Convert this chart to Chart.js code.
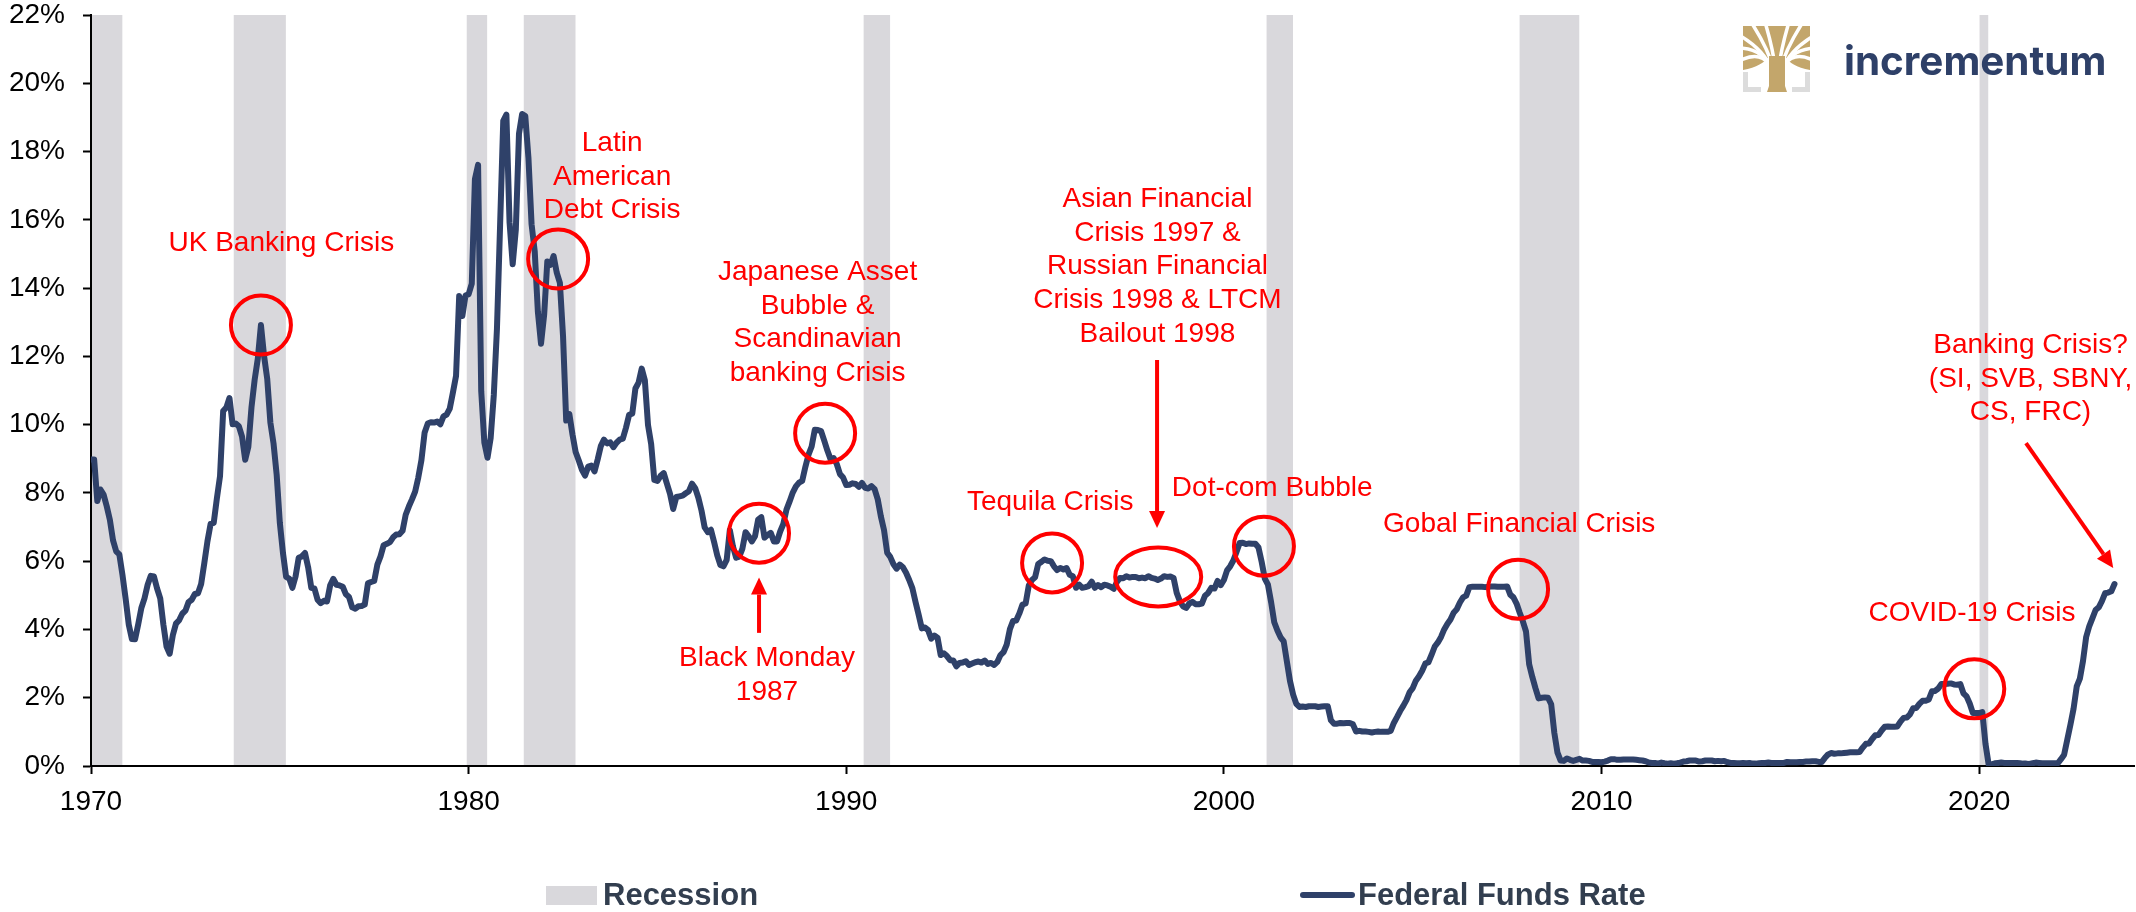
<!DOCTYPE html>
<html>
<head>
<meta charset="utf-8">
<script src="https://cdn.jsdelivr.net/npm/chart.js@4.4.0/dist/chart.umd.min.js"></script>
<style>
  html, body { margin: 0; padding: 0; background: #fff; }
</style>
</head>
<body>
<canvas id="myChart" width="2136" height="912"></canvas>
<script>
// Effective federal funds rate, monthly, starting January 1970 (%)
const startYear = 1970;
const rate1970s = [
  8.98, 8.98, 7.76, 8.10, 7.95, 7.61, 7.21, 6.61, 6.29, 6.20, 5.60, 4.90,
  4.14, 3.72, 3.71, 4.15, 4.63, 4.91, 5.31, 5.57, 5.55, 5.20, 4.91, 4.14,
  3.50, 3.29, 3.83, 4.17, 4.27, 4.46, 4.55, 4.80, 4.87, 5.04, 5.06, 5.33,
  5.94, 6.58, 7.09, 7.12, 7.84, 8.49, 10.40, 10.50, 10.78, 10.01, 10.03, 9.95,
  9.65, 8.97, 9.35, 10.51, 11.31, 11.93, 12.92, 12.01, 11.34, 10.06, 9.45, 8.53,
  7.13, 6.24, 5.54, 5.49, 5.22, 5.55, 6.10, 6.14, 6.24, 5.82, 5.22, 5.20,
  4.87, 4.77, 4.84, 4.82, 5.29, 5.48, 5.31, 5.29, 5.25, 5.03, 4.95, 4.65,
  4.61, 4.68, 4.69, 4.73, 5.35, 5.39, 5.42, 5.90, 6.14, 6.47, 6.51, 6.56,
  6.70, 6.78, 6.79, 6.89, 7.36, 7.60, 7.81, 8.04, 8.45, 8.96, 9.76, 10.03,
  10.07, 10.06, 10.09, 10.01, 10.24, 10.29, 10.47, 10.94, 11.43, 13.77, 13.18, 13.78
];
const rate1980s = [
  13.82, 14.13, 17.19, 17.61, 10.98, 9.47, 9.03, 9.61, 10.87, 12.81, 15.85, 18.90,
  19.08, 15.93, 14.70, 15.72, 18.52, 19.10, 19.04, 17.82, 15.87, 15.08, 13.31, 12.37,
  13.22, 14.78, 14.68, 14.94, 14.45, 14.15, 12.59, 10.12, 10.31, 9.71, 9.20, 8.95,
  8.68, 8.51, 8.77, 8.80, 8.63, 8.98, 9.37, 9.56, 9.45, 9.48, 9.34, 9.47,
  9.56, 9.59, 9.91, 10.29, 10.32, 11.06, 11.23, 11.64, 11.30, 9.99, 9.43, 8.38,
  8.35, 8.50, 8.58, 8.27, 7.97, 7.53, 7.88, 7.90, 7.92, 7.99, 8.05, 8.27,
  8.14, 7.86, 7.48, 6.99, 6.85, 6.92, 6.56, 6.17, 5.89, 5.85, 6.04, 6.91,
  6.43, 6.10, 6.13, 6.37, 6.85, 6.73, 6.58, 6.73, 7.22, 7.29, 6.69, 6.77,
  6.83, 6.58, 6.58, 6.87, 7.09, 7.51, 7.75, 8.01, 8.19, 8.30, 8.35, 8.76,
  9.12, 9.36, 9.85, 9.84, 9.81, 9.53, 9.24, 8.99, 9.02, 8.84, 8.55, 8.45
];
const rate1990s = [
  8.23, 8.24, 8.28, 8.26, 8.18, 8.29, 8.15, 8.13, 8.20, 8.11, 7.81, 7.31,
  6.91, 6.25, 6.12, 5.91, 5.78, 5.90, 5.82, 5.66, 5.45, 5.21, 4.81, 4.43,
  4.03, 4.06, 3.98, 3.73, 3.82, 3.76, 3.25, 3.30, 3.22, 3.10, 3.09, 2.92,
  3.02, 3.03, 3.07, 2.96, 3.00, 3.04, 3.06, 3.03, 3.09, 2.99, 3.02, 2.96,
  3.05, 3.25, 3.34, 3.56, 4.01, 4.25, 4.26, 4.47, 4.73, 4.76, 5.29, 5.45,
  5.53, 5.92, 5.98, 6.05, 6.01, 6.00, 5.85, 5.74, 5.80, 5.76, 5.80, 5.60,
  5.56, 5.22, 5.31, 5.22, 5.24, 5.27, 5.40, 5.22, 5.30, 5.24, 5.31, 5.29,
  5.25, 5.19, 5.39, 5.51, 5.50, 5.56, 5.52, 5.54, 5.54, 5.50, 5.52, 5.50,
  5.56, 5.51, 5.49, 5.45, 5.49, 5.56, 5.54, 5.55, 5.51, 5.07, 4.83, 4.68,
  4.63, 4.76, 4.81, 4.74, 4.74, 4.76, 4.99, 5.07, 5.22, 5.20, 5.42, 5.30
];
const rate2000s = [
  5.45, 5.73, 5.85, 6.02, 6.27, 6.53, 6.54, 6.50, 6.52, 6.51, 6.51, 6.40,
  5.98, 5.49, 5.31, 4.80, 4.21, 3.97, 3.77, 3.65, 3.07, 2.49, 2.09, 1.82,
  1.73, 1.74, 1.73, 1.75, 1.75, 1.75, 1.73, 1.74, 1.75, 1.75, 1.34, 1.24,
  1.24, 1.26, 1.25, 1.26, 1.26, 1.22, 1.01, 1.03, 1.01, 1.01, 1.00, 0.98,
  1.00, 1.01, 1.00, 1.00, 1.00, 1.03, 1.26, 1.43, 1.61, 1.76, 1.93, 2.16,
  2.28, 2.50, 2.63, 2.79, 3.00, 3.04, 3.26, 3.50, 3.62, 3.78, 4.00, 4.16,
  4.29, 4.49, 4.59, 4.79, 4.94, 4.99, 5.24, 5.25, 5.25, 5.25, 5.25, 5.24,
  5.25, 5.26, 5.26, 5.25, 5.25, 5.25, 5.26, 5.02, 4.94, 4.76, 4.49, 4.24,
  3.94, 2.98, 2.61, 2.28, 1.98, 2.00, 2.01, 2.00, 1.81, 0.97, 0.39, 0.16,
  0.15, 0.22, 0.18, 0.15, 0.18, 0.21, 0.16, 0.16, 0.15, 0.12, 0.12, 0.12
];
const rate2010s = [
  0.11, 0.13, 0.16, 0.20, 0.20, 0.18, 0.18, 0.19, 0.19, 0.19, 0.19, 0.18,
  0.17, 0.16, 0.14, 0.10, 0.09, 0.09, 0.07, 0.10, 0.08, 0.07, 0.08, 0.07,
  0.08, 0.10, 0.13, 0.14, 0.16, 0.16, 0.16, 0.13, 0.14, 0.16, 0.16, 0.16,
  0.14, 0.15, 0.14, 0.15, 0.11, 0.09, 0.09, 0.08, 0.08, 0.09, 0.08, 0.09,
  0.07, 0.07, 0.08, 0.09, 0.09, 0.10, 0.09, 0.09, 0.09, 0.09, 0.09, 0.12,
  0.11, 0.11, 0.11, 0.12, 0.12, 0.13, 0.13, 0.14, 0.14, 0.12, 0.12, 0.24,
  0.34, 0.38, 0.36, 0.37, 0.37, 0.38, 0.39, 0.40, 0.40, 0.40, 0.41, 0.54,
  0.65, 0.66, 0.79, 0.90, 0.91, 1.04, 1.15, 1.16, 1.15, 1.15, 1.16, 1.30,
  1.41, 1.42, 1.51, 1.69, 1.70, 1.82, 1.91, 1.91, 1.95, 2.19, 2.20, 2.27,
  2.40, 2.40, 2.41, 2.42, 2.39, 2.38, 2.40, 2.13, 2.04, 1.83, 1.55, 1.55
];
const rate2020s = [
  1.55, 1.58, 0.65, 0.05, 0.05, 0.08, 0.09, 0.10, 0.09, 0.09, 0.09, 0.09,
  0.09, 0.08, 0.07, 0.07, 0.06, 0.08, 0.10, 0.09, 0.08, 0.08, 0.08, 0.08,
  0.08, 0.08, 0.20, 0.33, 0.77, 1.21, 1.68, 2.33, 2.56, 3.08, 3.78, 4.10,
  4.33, 4.57, 4.65, 4.83, 5.06, 5.08, 5.12, 5.33
];

// US recessions (decimal years)
const recessionStart = [1969.92, 1973.78, 1979.95, 1981.46, 1990.46, 2001.13, 2007.83, 2020.01];
const recessionEnd   = [1970.83, 1975.16, 1980.49, 1982.83, 1991.16, 2001.83, 2009.41, 2020.24];

const xTickYears = [1970, 1980, 1990, 2000, 2010, 2020];
const yTickValues = [0, 2, 4, 6, 8, 10, 12, 14, 16, 18, 20, 22];

// annotation texts (anchor = centre of first line, in year / percent)
const noteLabels = [
  { year: 1975.04, value: 15.32, lines: ['UK Banking Crisis'] },
  { year: 1983.80, value: 18.25, lines: ['Latin', 'American', 'Debt Crisis'] },
  { year: 1989.24, value: 14.47, lines: ['Japanese Asset', 'Bubble &', 'Scandinavian', 'banking Crisis'] },
  { year: 1987.90, value: 3.16, lines: ['Black Monday', '1987'] },
  { year: 1995.40, value: 7.73, lines: ['Tequila Crisis'] },
  { year: 1998.24, value: 16.61, lines: ['Asian Financial', 'Crisis 1997 &', 'Russian Financial', 'Crisis 1998 & LTCM', 'Bailout 1998'] },
  { year: 2001.28, value: 8.14, lines: ['Dot-com Bubble'] },
  { year: 2007.82, value: 7.09, lines: ['Gobal Financial Crisis'] },
  { year: 2019.81, value: 4.48, lines: ['COVID-19 Crisis'] },
  { year: 2021.36, value: 12.33, lines: ['Banking Crisis?', '(SI, SVB, SBNY,', 'CS, FRC)'] }
];
// circled episodes
const noteCircles = [
  { year: 1974.50, value: 12.92 },
  { year: 1982.37, value: 14.85 },
  { year: 1989.44, value: 9.75 },
  { year: 1987.69, value: 6.82 },
  { year: 1995.45, value: 5.95 },
  { year: 1998.26, value: 5.54, wide: true },
  { year: 2001.06, value: 6.44 },
  { year: 2007.79, value: 5.18 },
  { year: 2019.87, value: 2.26 }
];
// arrows: from -> to
const noteArrows = [
  { fromYear: 1987.69, fromValue: 3.90, toYear: 1987.69, toValue: 5.52 },
  { fromYear: 1998.23, fromValue: 11.89, toYear: 1998.23, toValue: 6.97 },
  { fromYear: 2021.24, fromValue: 9.46, toYear: 2023.55, toValue: 5.80 }
];

const fedFunds = [].concat(rate1970s, rate1980s, rate1990s, rate2000s, rate2010s, rate2020s);
const points = fedFunds.map((v, i) => ({ x: startYear + i / 12, y: v }));

const RED = '#ff0000';
const NAVY = '#2f4169';
const BAND = '#d9d8dc';
Chart.defaults.font.family = '"Liberation Sans", Arial, sans-serif';

const recessionBands = {
  id: 'recessionBands',
  beforeDraw(chart) {
    const { ctx, chartArea, scales: { x, y } } = chart;
    ctx.save();
    ctx.fillStyle = BAND;
    recessionStart.forEach((s, i) => {
      const x0 = Math.max(x.getPixelForValue(s), chartArea.left);
      const x1 = Math.min(x.getPixelForValue(recessionEnd[i]), chartArea.right);
      ctx.fillRect(x0, y.getPixelForValue(22), x1 - x0, y.getPixelForValue(0) - y.getPixelForValue(22));
    });
    ctx.restore();
  }
};

function drawArrow(ctx, x0, y0, x1, y1) {
  const a = Math.atan2(y1 - y0, x1 - x0);
  const head = 17, half = 8;
  const bx = x1 - head * Math.cos(a), by = y1 - head * Math.sin(a);
  ctx.beginPath();
  ctx.moveTo(x0, y0);
  ctx.lineTo(bx, by);
  ctx.stroke();
  ctx.beginPath();
  ctx.moveTo(x1, y1);
  ctx.lineTo(bx + half * Math.sin(a), by - half * Math.cos(a));
  ctx.lineTo(bx - half * Math.sin(a), by + half * Math.cos(a));
  ctx.closePath();
  ctx.fill();
}

const annotations = {
  id: 'annotations',
  afterDatasetsDraw(chart) {
    const { ctx, scales: { x, y } } = chart;
    ctx.save();
    ctx.fillStyle = RED;
    ctx.strokeStyle = RED;
    ctx.lineWidth = 4;
    ctx.font = '28px "Liberation Sans", Arial, sans-serif';
    ctx.textAlign = 'center';
    ctx.textBaseline = 'middle';
    noteLabels.forEach(n => {
      const px = x.getPixelForValue(n.year), py = y.getPixelForValue(n.value);
      n.lines.forEach((t, k) => ctx.fillText(t, px, py + k * 33.8));
    });
    noteCircles.forEach(c => {
      ctx.beginPath();
      ctx.ellipse(x.getPixelForValue(c.year), y.getPixelForValue(c.value), c.wide ? 43 : 30, 29.5, 0, 0, Math.PI * 2);
      ctx.stroke();
    });
    noteArrows.forEach(a => {
      drawArrow(ctx, x.getPixelForValue(a.fromYear), y.getPixelForValue(a.fromValue),
        x.getPixelForValue(a.toYear), y.getPixelForValue(a.toValue));
    });
    ctx.restore();
  }
};

// bottom legend + logo
const legendAndLogo = {
  id: 'legendAndLogo',
  afterDraw(chart) {
    const ctx = chart.ctx;
    ctx.save();
    const ly = 895;
    ctx.fillStyle = BAND;
    ctx.fillRect(546, ly - 9, 51, 19);
    ctx.strokeStyle = NAVY;
    ctx.lineWidth = 6;
    ctx.lineCap = 'round';
    ctx.beginPath();
    ctx.moveTo(1303, ly);
    ctx.lineTo(1352, ly);
    ctx.stroke();
    ctx.fillStyle = '#323e4f';
    ctx.font = 'bold 31px "Liberation Sans", Arial, sans-serif';
    ctx.textBaseline = 'middle';
    ctx.fillText(chart.data.datasets[1].label, 603, ly + 1);
    ctx.fillText(chart.data.datasets[0].label, 1358, ly + 1);

    // logo: tree mark (gold crown with white veins, trunk, grey corners)
    const x0 = 1743, y0 = 26, w = 67, cx = x0 + 34;
    const gold = '#c3a66b';
    ctx.save();
    ctx.beginPath();
    ctx.rect(x0, y0, w, 44);
    ctx.clip();
    ctx.fillStyle = gold;
    ctx.fillRect(x0, y0, w, 44);
    ctx.strokeStyle = '#fff';
    ctx.lineWidth = 3.5;
    [[-40, 8], [-40, 22], [-40, 36], [-26, -4], [-12, -4], [12, -4], [26, -4], [40, 8], [40, 22], [40, 36]].forEach(([dx, dy]) => {
      ctx.beginPath();
      ctx.moveTo(cx + dx * 0.12, y0 + 44);
      ctx.quadraticCurveTo(cx + dx * 0.35, y0 + 22, cx + dx, y0 + dy);
      ctx.stroke();
    });
    ctx.fillStyle = '#fff';
    ctx.beginPath();
    ctx.moveTo(x0, y0 + 44);
    ctx.quadraticCurveTo(x0 + 20, y0 + 40, cx - 8, y0 + 30);
    ctx.lineTo(cx - 8, y0 + 44);
    ctx.closePath();
    ctx.moveTo(x0 + w, y0 + 44);
    ctx.quadraticCurveTo(x0 + w - 20, y0 + 40, cx + 8, y0 + 30);
    ctx.lineTo(cx + 8, y0 + 44);
    ctx.closePath();
    ctx.fill();
    ctx.restore();
    ctx.fillStyle = gold;
    ctx.beginPath();
    ctx.moveTo(cx - 8, y0 + 30);
    ctx.lineTo(cx + 8, y0 + 30);
    ctx.lineTo(cx + 8, y0 + 60);
    ctx.lineTo(cx + 10, y0 + 66);
    ctx.lineTo(cx - 10, y0 + 66);
    ctx.lineTo(cx - 8, y0 + 60);
    ctx.closePath();
    ctx.fill();
    ctx.strokeStyle = '#dcdcdc';
    ctx.lineWidth = 5;
    ctx.lineCap = 'butt';
    ctx.beginPath();
    ctx.moveTo(x0 + 2.5, y0 + 46);
    ctx.lineTo(x0 + 2.5, y0 + 63.5);
    ctx.lineTo(x0 + 18, y0 + 63.5);
    ctx.moveTo(x0 + w - 2.5, y0 + 46);
    ctx.lineTo(x0 + w - 2.5, y0 + 63.5);
    ctx.lineTo(x0 + w - 18, y0 + 63.5);
    ctx.stroke();

    // logo: word mark, fitted to its width
    ctx.font = 'bold 40px Inter, "Noto Sans", sans-serif';
    const tw = ctx.measureText('incrementum').width;
    const size = 40 * 262 / tw;
    ctx.font = 'bold ' + size.toFixed(1) + 'px Inter, "Noto Sans", sans-serif';
    ctx.fillStyle = '#2e4068';
    ctx.textBaseline = 'alphabetic';
    ctx.fillText('incrementum', 1844, 75);
    ctx.restore();
  }
};

const ctx = document.getElementById('myChart').getContext('2d');
const myChart = new Chart(ctx, {
  type: 'line',
  data: {
    datasets: [
      {
        label: 'Federal Funds Rate',
        data: points,
        borderColor: NAVY,
        borderWidth: 6,
        pointRadius: 0,
        tension: 0,
        borderJoinStyle: 'round',
        borderCapStyle: 'round'
      },
      {
        label: 'Recession',
        data: [],
        backgroundColor: BAND
      }
    ]
  },
  options: {
    responsive: false,
    animation: false,
    events: [],
    parsing: false,
    layout: {
      padding: { left: 0, right: 2, top: 15, bottom: 86 }
    },
    plugins: {
      legend: { display: false },
      tooltip: { enabled: false }
    },
    scales: {
      x: {
        type: 'linear',
        min: 1970,
        max: 2024.1,
        afterBuildTicks: s => { s.ticks = xTickYears.map(v => ({ value: v })); },
        afterFit: s => { s.height = 60; s.paddingLeft = 0; s.paddingRight = 0; },
        grid: { drawOnChartArea: false, drawTicks: true, tickLength: 8, tickWidth: 2, tickColor: '#000' },
        border: { display: true, color: '#000', width: 2 },
        ticks: {
          color: '#000',
          font: { size: 28, lineHeight: 1 },
          padding: 14,
          maxRotation: 0,
          autoSkip: false,
          callback: v => String(v)
        }
      },
      y: {
        min: 0,
        max: 22,
        afterBuildTicks: s => { s.ticks = yTickValues.map(v => ({ value: v })); },
        afterFit: s => { s.width = 91; s.paddingTop = 0; s.paddingBottom = 0; },
        grid: { drawOnChartArea: false, drawTicks: true, tickLength: 8, tickWidth: 2, tickColor: '#000' },
        border: { display: true, color: '#000', width: 2 },
        ticks: {
          color: '#000',
          font: { size: 28, lineHeight: 1 },
          padding: 18,
          callback: v => v + '%'
        }
      }
    }
  },
  plugins: [recessionBands, annotations, legendAndLogo]
});
</script>
</body>
</html>
